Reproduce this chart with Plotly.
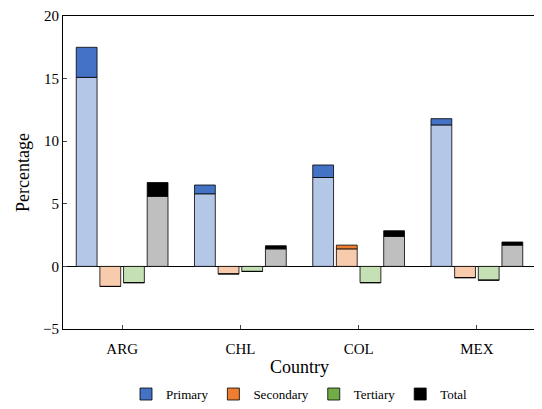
import plotly.graph_objects as go

countries = ['ARG', 'CHL', 'COL', 'MEX']
series = ['Primary', 'Secondary', 'Tertiary', 'Total']
dark = ['#4472C4', '#ED7D31', '#70AD47', '#000000']
light = ['#B4C7E7', '#F8CBAD', '#C5E0B4', '#BFBFBF']

# base (light) part and top of the stack (light + dark)
base_vals = {
    'Primary':   [15.1, 5.8, 7.1, 11.3],
    'Secondary': [-1.6, -0.6, 1.4, -0.9],
    'Tertiary':  [-1.3, -0.4, -1.3, -1.1],
    'Total':     [5.6, 1.4, 2.4, 1.7],
}
top_vals = {
    'Primary':   [17.5, 6.5, 8.1, 11.8],
    'Secondary': [-1.6, -0.6, 1.7, -0.9],
    'Tertiary':  [-1.3, -0.4, -1.3, -1.1],
    'Total':     [6.7, 1.65, 2.85, 1.95],
}

fig = go.Figure()
for s, dc, lc in zip(series, dark, light):
    b = base_vals[s]
    t = top_vals[s]
    fig.add_trace(go.Bar(x=countries, y=b, offsetgroup=s, marker_color=lc,
                         marker_line=dict(color='black', width=0.8), showlegend=False))
    fig.add_trace(go.Bar(x=countries, y=[ti - bi for ti, bi in zip(t, b)], base=b,
                         offsetgroup=s, name=s, marker_color=dc,
                         marker_line=dict(color='black', width=0.8)))

fig.update_layout(
    width=542, height=409, barmode='group', bargap=0.2, bargroupgap=0.12,
    plot_bgcolor='white', paper_bgcolor='white',
    font=dict(family='Liberation Serif', size=15, color='black'),
    margin=dict(l=55, r=14, t=8, b=81),
    legend=dict(orientation='h', x=0.5, xanchor='center', y=-0.16, yanchor='top',
                font=dict(size=13), itemwidth=30, tracegroupgap=0),
    xaxis=dict(title=dict(text='Country', standoff=4), showline=True, mirror=True,
               linecolor='black', ticks='inside', ticklen=4, automargin=False,
               ticklabelstandoff=6),
    yaxis=dict(title=dict(text='Percentage', standoff=8), range=[-5, 20], dtick=5,
               showline=True, mirror=True, linecolor='black', ticks='inside',
               ticklen=4, showgrid=False, zeroline=True, zerolinecolor='black',
               zerolinewidth=1, automargin=False),
)
fig.write_html('out.html')
